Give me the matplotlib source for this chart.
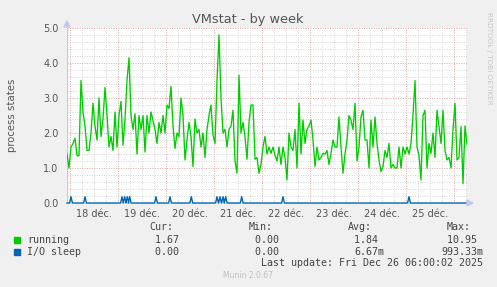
import numpy as np
import matplotlib
matplotlib.use("Agg")
import matplotlib.pyplot as plt

# ---------------- data ----------------
title = "VMstat - by week"
ylabel = "process states"
day_labels = ["18 déc.", "19 déc.", "20 déc.", "21 déc.", "22 déc.", "23 déc.", "24 déc.", "25 déc."]
y_ticks = [0.0, 1.0, 2.0, 3.0, 4.0, 5.0]

# running: hourly samples, first sample at hour -1.5 relative to 18 déc 00:00
run_start_h = -1.5
running = [
    1.4,
    1.0, 1.6, 1.7, 1.85, 1.35, 1.35, 3.5, 2.6, 2.2, 1.5, 1.5, 2.0, 2.85, 2.2, 1.8, 3.0, 1.9, 2.4, 3.3, 2.5,
    1.6, 1.9, 1.5, 2.6, 1.6, 2.5, 2.9, 1.65, 2.4, 3.5, 4.15, 2.5, 2.1, 2.55, 1.4, 2.5, 2.1, 2.5, 1.46, 2.5,
    2.0, 2.6, 2.35, 2.1, 1.7, 2.3, 2.0, 2.5, 2.0, 2.8, 2.7, 3.33, 2.2, 1.56, 2.0, 1.9, 3.0, 2.5, 1.23, 1.8,
    2.3, 1.9, 1.04, 2.4, 2.0, 2.1, 1.6, 2.0, 1.3, 2.1, 2.5, 2.8, 1.95, 1.7, 3.5, 4.8, 3.0, 2.0, 2.1, 1.6,
    2.1, 2.2, 2.65, 1.2, 0.85, 3.65, 2.0, 2.3, 1.9, 1.25, 2.3, 2.8, 2.8, 1.25, 1.3, 0.85, 1.1, 1.6, 1.9, 1.4,
    1.6, 1.42, 1.6, 1.36, 1.2, 1.6, 1.1, 1.6, 1.3, 0.66, 2.0, 1.6, 1.5, 2.1, 1.0, 2.85, 1.4, 2.37, 1.7, 2.1,
    2.2, 2.37, 1.8, 1.04, 1.6, 1.23, 1.3, 1.42, 1.4, 1.5, 1.1, 1.42, 1.8, 1.6, 1.6, 2.46, 1.6, 0.85, 1.4, 1.8,
    2.5, 2.37, 2.1, 2.85, 1.2, 1.6, 2.46, 2.65, 1.8, 1.8, 1.0, 2.37, 1.6, 2.46, 1.7, 1.23, 0.9, 1.04, 1.5, 1.3,
    1.7, 1.0, 1.1, 1.0, 1.0, 1.6, 1.0, 1.6, 1.4, 1.6, 1.4, 1.7, 2.5, 3.5, 1.6, 1.35, 0.66, 2.5, 2.65, 1.0,
    1.7, 1.42, 2.0, 1.3, 2.65, 2.18, 1.7, 2.65, 1.5, 1.23, 1.3, 1.0, 2.1, 2.85, 1.23, 1.3, 2.18, 0.55, 2.2,
    1.67,
]

# I/O sleep: short spikes (hour of spike, value)
io_spike_hours = [0.5, 7.5, 26.0, 27.35, 28.65, 29.85, 43.0, 50.0, 60.65, 73.5, 75.0, 76.5, 77.85,
                  85.85, 106.5, 169.5]
io_spike_value = 0.18

legend_rows = [
    ("running", "#00CC00", "1.67", "0.00", "1.84", "10.95"),
    ("I/O sleep", "#0066B3", "0.00", "0.00", "6.67m", "993.33m"),
]
last_update = "Last update: Fri Dec 26 06:00:02 2025"
version = "Munin 2.0.67"

# ---------------- figure ----------------
W, H = 497, 287
fig = plt.figure(figsize=(W / 100, H / 100), dpi=100, facecolor="#F0F0F0")

def fx(px):
    return px / W

def fy(py):
    return 1 - py / H

ax_l, ax_r, ax_t, ax_b = 67, 467, 28, 203
ax = fig.add_axes([fx(ax_l), fy(ax_b), (ax_r - ax_l) / W, (ax_b - ax_t) / H])
ax.set_facecolor("white")

x0, x1 = -1.5, 198.5
ax.set_xlim(x0, x1)
ax.set_ylim(0, 5.0)

# grid
minor_y = np.arange(0, 5.01, 0.2)
for v in minor_y:
    if abs(v - round(v)) > 1e-6:
        ax.axhline(v, color="#D4D4D4", lw=0.7, ls=(0, (1, 1.5)), zorder=1)
for d in np.arange(-6, 200, 6):
    if d % 24 != 0 and x0 < d < x1:
        ax.axvline(d, color="#D4D4D4", lw=0.7, ls=(0, (1, 1.5)), zorder=1)
for v in y_ticks[1:]:
    ax.axhline(v, color="#E8A0A0", lw=0.7, ls=(0, (1, 1.5)), zorder=1.5)
for d in range(0, 200, 24):
    ax.axvline(d, color="#E8A0A0", lw=0.7, ls=(0, (1, 1.5)), zorder=1.5)

# series
run_x = run_start_h + np.arange(len(running))
ax.plot(run_x, running, color="#00CC00", lw=0.95, zorder=3)

io_x = [x0]
io_y = [0.0]
for h in io_spike_hours:
    io_x += [h - 0.7, h, h + 0.7]
    io_y += [0.0, io_spike_value, 0.0]
io_x.append(x1)
io_y.append(0.0)
ax.plot(io_x, io_y, color="#0066B3", lw=1.0, zorder=4, clip_on=False)

for s in ax.spines.values():
    s.set_visible(False)
ax.axvline(x0, color="#C4C8F0", lw=1.0, zorder=2)

ax.set_yticks(y_ticks)
ax.set_yticklabels([f"{v:.1f}" for v in y_ticks])
ax.set_xticks([12 + 24 * i for i in range(len(day_labels))])
ax.set_xticklabels(day_labels)
ax.tick_params(axis="both", length=0, labelsize=7, colors="#555555", pad=6)
ax.tick_params(axis="x", pad=4)
ax.set_ylabel(ylabel, fontsize=7.3, color="#555555", labelpad=19)

# arrows
fig.patches.append(plt.Polygon([[fx(64), fy(27)], [fx(70), fy(27)], [fx(67), fy(21)]],
                               closed=True, transform=fig.transFigure, color="#C4C8F0", zorder=5))
fig.patches.append(plt.Polygon([[fx(467), fy(200)], [fx(467), fy(206)], [fx(473), fy(203)]],
                               closed=True, transform=fig.transFigure, color="#C4C8F0", zorder=5))

fig.text(fx(248), fy(19), title, ha="center", va="center", fontsize=9.3, color="#555555")
fig.text(fx(489), fy(58), "RRDTOOL / TOBI OETIKER", ha="center", va="center", rotation=270,
         fontsize=5.2, color="#C8C8C8")

mono = "DejaVu Sans Mono"
fs = 7.2
tc = "#444444"
hdr_x = [149, 249, 348, 447]
for xx, t in zip(hdr_x, ["Cur:", "Min:", "Avg:", "Max:"]):
    fig.text(fx(xx), fy(227), t, family=mono, fontsize=fs, color=tc, ha="left", va="center")
row_y = [240, 252]
val_end = [179, 279, 378, 477]
for (name, col, cur, mn, avg, mx), yy in zip(legend_rows, row_y):
    fig.patches.append(plt.Rectangle((fx(14), fy(yy + 3)), 6 / W, 6 / H, transform=fig.transFigure,
                                     color=col))
    fig.text(fx(27), fy(yy), name, family=mono, fontsize=fs, color=tc, ha="left", va="center")
    for xe, v in zip(val_end, [cur, mn, avg, mx]):
        # values are right aligned with the unit suffix column
        s = v if v.endswith("m") else v + " "
        fig.text(fx(xe + 6), fy(yy), s, family=mono, fontsize=fs, color=tc, ha="right", va="center")
fig.text(fx(483), fy(263), last_update, family=mono, fontsize=fs, color=tc, ha="right", va="center")
fig.text(fx(248), fy(276), version, fontsize=5.5, color="#C0C0C0", ha="center", va="center")

fig.savefig("out.png", dpi=100, facecolor=fig.get_facecolor())
